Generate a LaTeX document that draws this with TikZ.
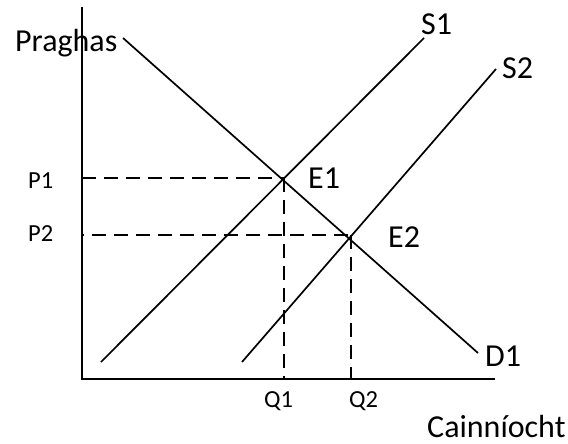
\documentclass[tikz,border=0pt]{standalone}
\usepackage{fontspec}
\setmainfont{Carlito}
\begin{document}
\begin{tikzpicture}[x=1pt,y=-1pt,
  ln/.style={line width=1.7pt},
  dsh/.style={line width=1.7pt, dash pattern=on 14pt off 8pt},
  big/.style={font=\fontsize{32}{34}\selectfont, anchor=base west, inner sep=0pt},
  sml/.style={font=\fontsize{24.5}{26}\selectfont, anchor=base west, inner sep=0pt}]
\useasboundingbox (0,0) rectangle (568,444);
% axes
\coordinate (ytop) at (82,7);
\coordinate (O) at (82,379);
\coordinate (xend) at (495,379);
\draw[ln] (ytop) -- (O) -- (xend);
% curves
\coordinate (D0) at (123,38);
\coordinate (D1e) at (478,353);
\coordinate (S1a) at (101,362);
\coordinate (S1b) at (424,38);
\coordinate (S2a) at (242,362);
\coordinate (S2b) at (496,69);
\draw[ln] (D0) -- (D1e);
\draw[ln] (S1a) -- (S1b);
\draw[ln] (S2a) -- (S2b);
% equilibria
\coordinate (E1) at (284,178);
\coordinate (E2) at (351,235);
\coordinate (P1a) at (82,178);
\coordinate (P2a) at (82,235);
\coordinate (Q1a) at (284,379);
\coordinate (Q2a) at (351,379);
\draw[dsh] (P1a) -- (E1);
\draw[dsh, dash phase=-10pt] (P2a) -- (E2);
\draw[dsh] (E1) -- (Q1a);
\draw[dsh] (E2) -- (Q2a);
% labels
\node[big] (lp) at (15,52) {Praghas};
\node[big] (ls1) at (421,35) {S1};
\node[big] (ls2) at (502,79) {S2};
\node[big] (le1) at (308,188) {E1};
\node[big] (le2) at (388,247) {E2};
\node[big] (ld1) at (485,366) {D1};
\node[sml] (lp1) at (28,188) {P1};
\node[sml] (lp2) at (28,241) {P2};
\node[sml] (lq1) at (264,407) {Q1};
\node[sml] (lq2) at (349,407) {Q2};
\node[big] (lc) at (427,437) {Cainníocht};
\end{tikzpicture}
\end{document}
